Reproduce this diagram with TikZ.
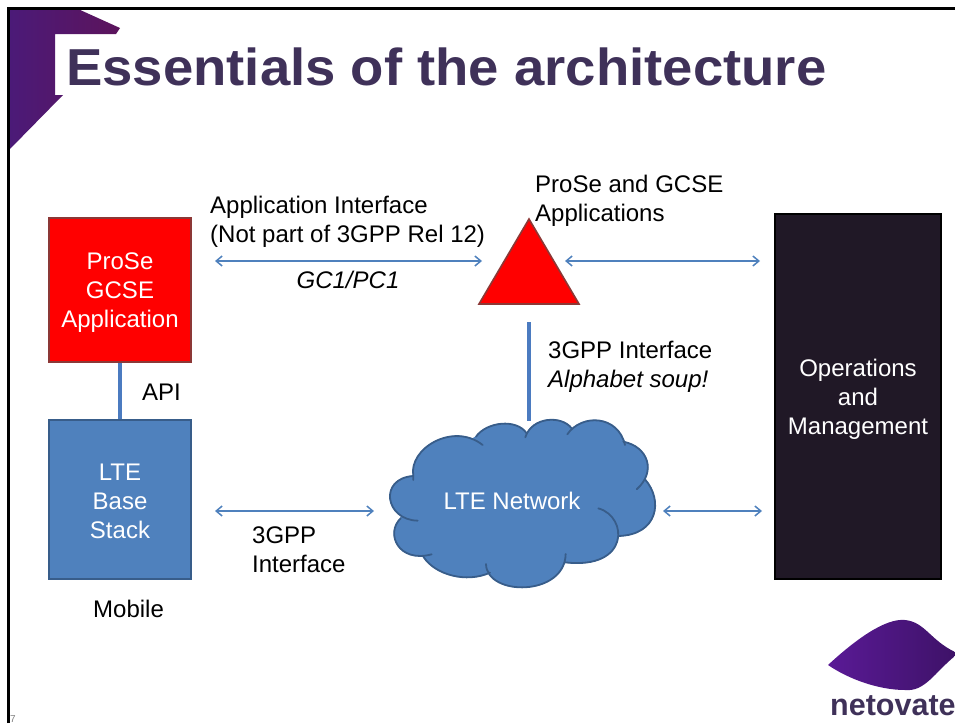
\documentclass[tikz,border=0pt]{standalone}
\usepackage{fontspec}
\setmainfont{Liberation Sans}
\usetikzlibrary{arrows.meta,shapes.geometric}
\definecolor{blu}{HTML}{4F81BD}
\definecolor{bord}{HTML}{385D8A}
\definecolor{redbord}{HTML}{8C3836}
\definecolor{ttl}{HTML}{3F3159}
\definecolor{rd}{HTML}{FF0000}
\definecolor{blk}{HTML}{201826}
\definecolor{pur}{HTML}{4B1A78}
\definecolor{leafa}{HTML}{5A1A96}
\definecolor{leafb}{HTML}{7A24B4}
\definecolor{leafc}{HTML}{3E1268}
\newcommand{\boxtext}[2]{\raisebox{0pt}[\dimexpr\height+#1\relax][\depth]{\parbox[c]{141pt}{\centering #2}}}
\tikzset{
 box/.style={draw=bord,line width=2pt,text=white,align=center,font=\fontsize{24}{29}\selectfont,inner sep=0pt},
 lbl/.style={align=left,anchor=north west,inner sep=0pt,font=\fontsize{24}{29}\selectfont},
 link/.style={blu,line width=1.5pt,{Straight Barb[length=6pt,width=10pt]}-{Straight Barb[length=6pt,width=10pt]}},
 bar/.style={color=blu!95!blue,line width=4pt},
 cloudline/.style={draw=bord,line width=1.8pt,line cap=round},
 cloudfill/.style={fill=blu,draw=blu,line width=1pt}
}
\begin{document}
\begin{tikzpicture}[x=1pt,y=-1pt]
\useasboundingbox (0,0) rectangle (955,723);
\clip (0,0) rectangle (955,723);
% frame and corner
\shade[left color=pur,right color=pur!85!red!90!black] (9,9) -- (78,9) -- (120,28) -- (116,34) -- (55,34) -- (55,95) -- (63,95) -- (9,150) -- cycle;
\draw[black,line width=2.6pt] (8.5,723) -- (8.5,8.5) -- (955,8.5);
\node[anchor=base west,inner sep=0pt,text=gray,font=\fontsize{10}{10}\selectfont] (pg) at (10,722) {7};
% title
\node[anchor=base west,inner sep=0pt,text=ttl,font=\bfseries\fontsize{52}{60}\selectfont,xscale=1.048] (title) at (66,85) {Essentials of the architecture};
% boxes
\node[box,draw=redbord,fill=rd,minimum width=142pt,minimum height=144pt] (prose) at (120,290) {\boxtext{6pt}{ProSe\\GCSE\\Application}};
\node[box,fill=blu,minimum width=142pt,minimum height=159pt] (stack) at (120,499.5) {\boxtext{4pt}{LTE\\Base\\Stack}};
\node[box,draw=black,fill=blk,minimum width=166pt,minimum height=365pt] (ops) at (858,396.5) {\boxtext{6pt}{Operations\\and\\Management}};
% triangle
\draw[fill=rd,draw=redbord,line width=1.6pt,line join=miter] (529,219) -- (579,304) -- (479,304) -- cycle;
\coordinate (tri) at (529,322);
% cloud
\begin{scope}[shift={(370,400)},x=0.3333pt,y=-0.3333pt]
\path[cloudfill] (130,228) -- (318,110) -- (468,100) -- (585,85) -- (762,130) -- (825,238) -- (745,408) -- (587,485) -- (350,520) -- (165,470) -- (92,355) -- cycle;
\path[cloudfill] (130,228) .. controls (115,145) and (250,65) .. (338,135) -- cycle;
\path[cloudfill] (318,110) .. controls (350,65) and (440,55) .. (470,100) -- cycle;
\path[cloudfill] (466,112) .. controls (485,50) and (575,45) .. (605,85) -- cycle;
\path[cloudfill] (592,103) .. controls (635,40) and (745,45) .. (765,135) -- cycle;
\path[cloudfill] (760,125) .. controls (835,140) and (860,215) .. (800,268) -- cycle;
\path[cloudfill] (825,238) .. controls (880,300) and (865,405) .. (745,408) -- cycle;
\path[cloudfill] (685,325) .. controls (775,350) and (780,510) .. (585,487) -- cycle;
\path[cloudfill] (587,462) .. controls (585,590) and (350,590) .. (348,492) -- cycle;
\path[cloudfill] (360,518) .. controls (290,550) and (195,525) .. (160,470) -- cycle;
\path[cloudfill] (185,463) .. controls (85,490) and (45,400) .. (92,355) -- cycle;
\path[cloudfill] (143,362) .. controls (45,360) and (25,235) .. (130,228) -- cycle;
\draw[cloudline] (130,240) -- (130,228) .. controls (115,145) and (250,65) .. (338,135);
\draw[cloudline] (318,110) .. controls (350,65) and (440,55) .. (470,100);
\draw[cloudline] (466,112) .. controls (485,50) and (575,45) .. (605,85);
\draw[cloudline] (592,103) .. controls (635,40) and (745,45) .. (765,135);
\draw[cloudline] (760,125) .. controls (835,140) and (860,215) .. (800,268);
\draw[cloudline] (825,238) .. controls (880,300) and (865,405) .. (745,408);
\draw[cloudline] (685,325) .. controls (775,350) and (780,510) .. (585,487);
\draw[cloudline] (587,462) .. controls (585,590) and (350,590) .. (348,492);
\draw[cloudline] (360,518) .. controls (290,550) and (195,525) .. (160,470);
\draw[cloudline] (185,463) .. controls (85,490) and (45,400) .. (92,355);
\draw[cloudline] (143,362) .. controls (45,360) and (25,235) .. (130,228);
\end{scope}
\node[inner sep=0pt,text=white,font=\fontsize{24}{29}\selectfont] (net) at (512,501) {LTE Network};
% connectors
\draw[bar] (prose.south) -- (stack.north);
\coordinate (netTop) at (529,421);
\draw[bar] (tri) -- (netTop);
\coordinate (a1) at (215,261); \coordinate (a2) at (482,261);
\coordinate (b1) at (565,261); \coordinate (b2) at (760,261);
\coordinate (c1) at (215,511); \coordinate (c2) at (374,511);
\coordinate (d1) at (663,511); \coordinate (d2) at (762,511);
\draw[link] (a1) -- (a2);
\draw[link] (b1) -- (b2);
\draw[link] (c1) -- (c2);
\draw[link] (d1) -- (d2);
% labels
\node[lbl] (l1) at (210,196) {Application Interface\\(Not part of 3GPP Rel 12)};
\node[lbl,anchor=north,font=\itshape\fontsize{24}{29}\selectfont] (l2) at (348,271) {GC1/PC1};
\node[lbl] (l3) at (535,175) {ProSe and GCSE\\Applications};
\node[lbl] (l4) at (548,341) {3GPP Interface\\\textit{Alphabet soup!}};
\node[lbl] (l5) at (142,384) {API};
\node[lbl] (l6) at (252,527) {3GPP\\Interface};
\node[lbl] (l7) at (93,600) {Mobile};
% logo
\shade[left color=leafa,middle color=leafb,right color=leafc] (828,665) .. controls (855,640) and (885,618) .. (905,620) .. controls (925,622) and (930,640) .. (955,652) -- (955,656) .. controls (935,672) and (925,692) .. (905,690) .. controls (880,690) and (850,680) .. (828,665) -- cycle;
\node[anchor=base west,inner sep=0pt,text=ttl,font=\bfseries\fontsize{30.5}{31}\selectfont] (logo) at (830,715) {netovate};
\end{tikzpicture}
\end{document}
